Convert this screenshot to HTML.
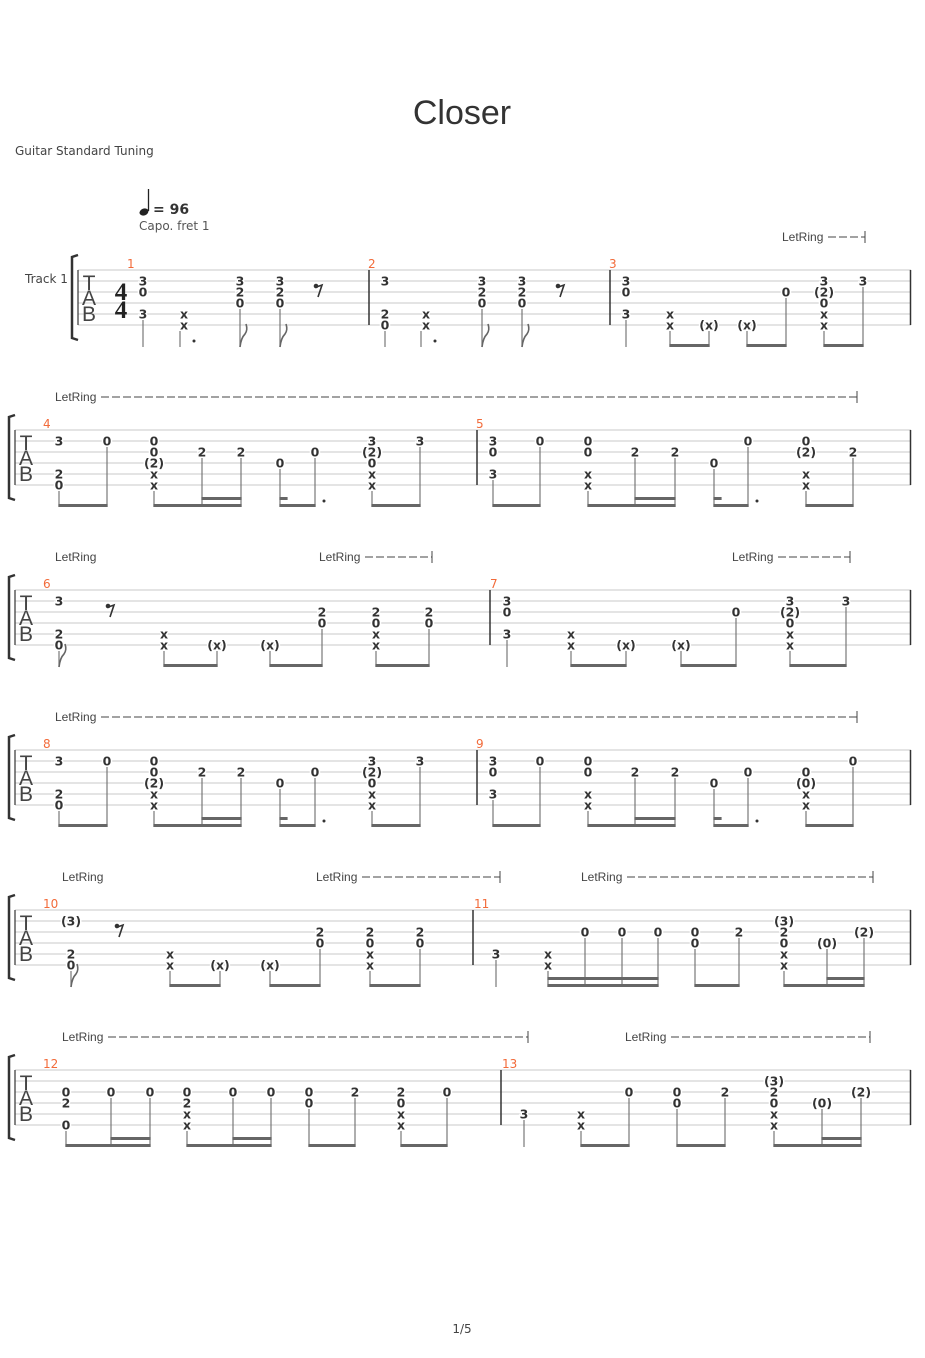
<!DOCTYPE html>
<html><head><meta charset="utf-8"><style>
html,body{margin:0;padding:0;background:#fff;}
svg{display:block;}
</style></head><body>
<svg id="s" width="925" height="1358" xmlns="http://www.w3.org/2000/svg" font-family="'DejaVu Sans','Liberation Sans',sans-serif">
<text x="462" y="124" text-anchor="middle" font-size="34" fill="#333" font-family="'Liberation Sans',sans-serif">Closer</text>
<text x="15" y="155" font-size="12" fill="#444">Guitar Standard Tuning</text>
<line x1="148.5" y1="189" x2="148.5" y2="211" stroke="#222" stroke-width="1.3"/>
<ellipse cx="144" cy="212" rx="4.6" ry="3.4" fill="#222" transform="rotate(-20 144 212)"/>
<text x="153" y="214" font-size="14" font-weight="bold" fill="#333">= 96</text>
<text x="139" y="230" font-size="12" fill="#555">Capo. fret 1</text>
<text x="25" y="283" font-size="12" fill="#444">Track 1</text>
<text x="462" y="1333" font-size="12" fill="#444" text-anchor="middle">1/5</text>
<g id="g"></g>
</svg>
<script>
var g=document.getElementById('g'),h='';
function L(x1,y1,x2,y2,c,w){h+='<line x1="'+x1+'" y1="'+y1+'" x2="'+x2+'" y2="'+y2+'" stroke="'+c+'" stroke-width="'+w+'"/>';}
function T(x,y,t,o){h+='<text x="'+x+'" y="'+y+'" '+(o||'')+'>'+t+'</text>';}
function sys(T0,x0,first){
  for(var i=0;i<6;i++)L(x0,T0+i*11,911,T0+i*11,'#c8c8c8',1);
  L(910.5,T0,910.5,T0+55,'#333',1.5);
  var bx=first?72:9;
  L(x0,T0,x0,T0+55,'#333',1.2);
  h+='<path d="M'+(bx+6)+' '+(T0-15)+' L'+bx+' '+(T0-13)+' L'+bx+' '+(T0+68)+' L'+(bx+6)+' '+(T0+70)+'" fill="none" stroke="#333" stroke-width="2.5"/>';
  var tx=x0+11,o='font-size="21" text-anchor="middle" fill="#444" font-family="Liberation Sans,sans-serif"';
  T(tx,T0+20,'T',o);T(tx,T0+35,'A',o);T(tx,T0+51,'B',o);
}
function bar(x,T0){L(x,T0,x,T0+55,'#333',1.5);}
function num(x,T0,n){T(x,T0-2,n,'font-size="12" fill="#f26b3a"');}
var cur,beamY;
function C(x,s,stem){
  var a=s.split('|'),low=0;
  for(var i=0;i<6;i++){if(a[i]){var y=cur+i*11;low=y;
    T(x,y+4.5,a[i],'font-size="12.5" font-weight="bold" fill="#333" text-anchor="middle" stroke="#fff" stroke-width="3" paint-order="stroke"');}}
  if(stem!==false)L(x,low+6,x,beamY,'#777',1.2);
}
function B(x1,x2){L(x1-0.6,beamY-1.5,x2+0.6,beamY-1.5,'#666',3);}
function B2(x1,x2){L(x1-0.6,beamY-8.5,x2+0.6,beamY-8.5,'#666',3);}
function F(x){h+='<path d="M'+x+' '+beamY+' q1,-9 5,-13 q3,-4 1,-10" fill="none" stroke="#666" stroke-width="1.6"/>';}
function R(x){var y=cur+20;h+='<circle cx="'+(x-3)+'" cy="'+(y-4)+'" r="2.3" fill="#333"/><path d="M'+(x-4)+' '+(y-2.5)+' L'+(x+3)+' '+(y-5)+' L'+(x-1)+' '+(y+7)+'" fill="none" stroke="#333" stroke-width="1.6"/>';}
function H(x,sx){C(x,'||||x|x',false);L(sx,cur+61,sx,beamY,'#777',1.2);h+='<circle cx="'+(sx+14)+'" cy="'+(cur+71)+'" r="1.5" fill="#333"/>';}
function D(x){h+='<circle cx="'+x+'" cy="'+(beamY-6)+'" r="1.5" fill="#333"/>';}
function LR(x,y){T(x,y+4,'LetRing','font-size="12" fill="#444" font-family="Liberation Sans,sans-serif"');}
function dashLR(x,y,x2){LR(x,y);
  h+='<line x1="'+(x+46)+'" y1="'+y+'" x2="'+x2+'" y2="'+y+'" stroke="#444" stroke-width="1" stroke-dasharray="8 3"/>';L(x2,y-6,x2,y+6,'#444',1);}

cur=270;beamY=347;sys(270,78,true);
T(121,300,'4','font-size="25" font-weight="bold" text-anchor="middle" fill="#222" font-family="Liberation Serif,serif"');
T(121,318,'4','font-size="25" font-weight="bold" text-anchor="middle" fill="#222" font-family="Liberation Serif,serif"');
dashLR(782,237,865);
num(127,270,'1');num(368,270,'2');num(609,270,'3');
bar(369,270);bar(610,270);
C(143,'|3|0||3|');H(184,180);C(240,'|3|2|0||');F(240);C(280,'|3|2|0||');F(280);R(319);
C(385,'|3|||2|0');H(426,421);C(482,'|3|2|0||');F(482);C(522,'|3|2|0||');F(522);R(561);
C(626,'|3|0||3|');C(670,'||||x|x');C(709,'|||||(x)');B(670,709);C(747,'|||||(x)');C(786,'||0|||');B(747,786);
C(824,'|3|(2)|0|x|x');C(863,'|3||||');B(824,863);

function sysA(T0,m1,m2,alt){
  cur=T0;beamY=T0+77;sys(T0,15,false);bar(477,T0);num(43,T0,m1);num(476,T0,m2);
  dashLR(55,T0-33,857);
  C(59,'|3|||2|0');C(107,'|0||||');B(59,107);
  C(154,'|0|0|(2)|x|x');C(202,'||2|||');C(241,'||2|||');B(154,241);B2(202,241);
  C(280,'|||0||');C(315,'||0|||');B(280,315);B2(280,287);D(324);
  C(372,'|3|(2)|0|x|x');C(420,'|3||||');B(372,420);
  C(493,'|3|0||3|');C(540,'|0||||');B(493,540);
  C(588,'|0|0||x|x');C(635,'||2|||');C(675,'||2|||');B(588,675);B2(635,675);
  C(714,'|||0||');
  if(!alt){C(748,'|0||||');}else{C(748,'||0|||');}
  B(714,748);B2(714,721);D(757);
  if(!alt){C(806,'|0|(2)||x|x');C(853,'||2|||');}else{C(806,'||0|(0)|x|x');C(853,'|0||||');}
  B(806,853);
}
sysA(430,'4','5',false);
sysA(750,'8','9',true);

cur=590;beamY=667;sys(590,15,false);bar(490,590);num(43,590,'6');num(490,590,'7');
LR(55,557);dashLR(319,557,432);dashLR(732,557,850);
C(59,'|3|||2|0');F(59);R(111);
C(164,'||||x|x');C(217,'|||||(x)');B(164,217);C(270,'|||||(x)');C(322,'||2|0||');B(270,322);
C(376,'||2|0|x|x');C(429,'||2|0||');B(376,429);
C(507,'|3|0||3|');C(571,'||||x|x');C(626,'|||||(x)');B(571,626);C(681,'|||||(x)');C(736,'||0|||');B(681,736);
C(790,'|3|(2)|0|x|x');C(846,'|3||||');B(790,846);

cur=910;beamY=987;sys(910,15,false);bar(473,910);num(43,910,'10');num(474,910,'11');
LR(62,877);dashLR(316,877,500);dashLR(581,877,873);
C(71,'|(3)|||2|0');F(71);R(120);
C(170,'||||x|x');C(220,'|||||(x)');B(170,220);C(270,'|||||(x)');C(320,'||2|0||');B(270,320);
C(370,'||2|0|x|x');C(420,'||2|0||');B(370,420);
C(496,'||||3|');C(548,'||||x|x');C(585,'||0|||');C(622,'||0|||');C(658,'||0|||');B(548,658);B2(548,658);
C(695,'||0|0||');C(739,'||2|||');B(695,739);
C(784,'|(3)|2|0|x|x');C(827,'|||(0)||');C(864,'||(2)|||');B(784,864);B2(827,864);

cur=1070;beamY=1147;sys(1070,15,false);bar(501,1070);num(43,1070,'12');num(502,1070,'13');
dashLR(62,1037,528);dashLR(625,1037,870);
C(66,'||0|2||0');C(111,'||0|||');C(150,'||0|||');B(66,150);B2(111,150);
C(187,'||0|2|x|x');C(233,'||0|||');C(271,'||0|||');B(187,271);B2(233,271);
C(309,'||0|0||');C(355,'||2|||');B(309,355);
C(401,'||2|0|x|x');C(447,'||0|||');B(401,447);
C(524,'||||3|');C(581,'||||x|x');C(629,'||0|||');B(581,629);
C(677,'||0|0||');C(725,'||2|||');B(677,725);
C(774,'|(3)|2|0|x|x');C(822,'|||(0)||');C(861,'||(2)|||');B(774,861);B2(822,861);

g.innerHTML=h;
</script>
</body></html>
